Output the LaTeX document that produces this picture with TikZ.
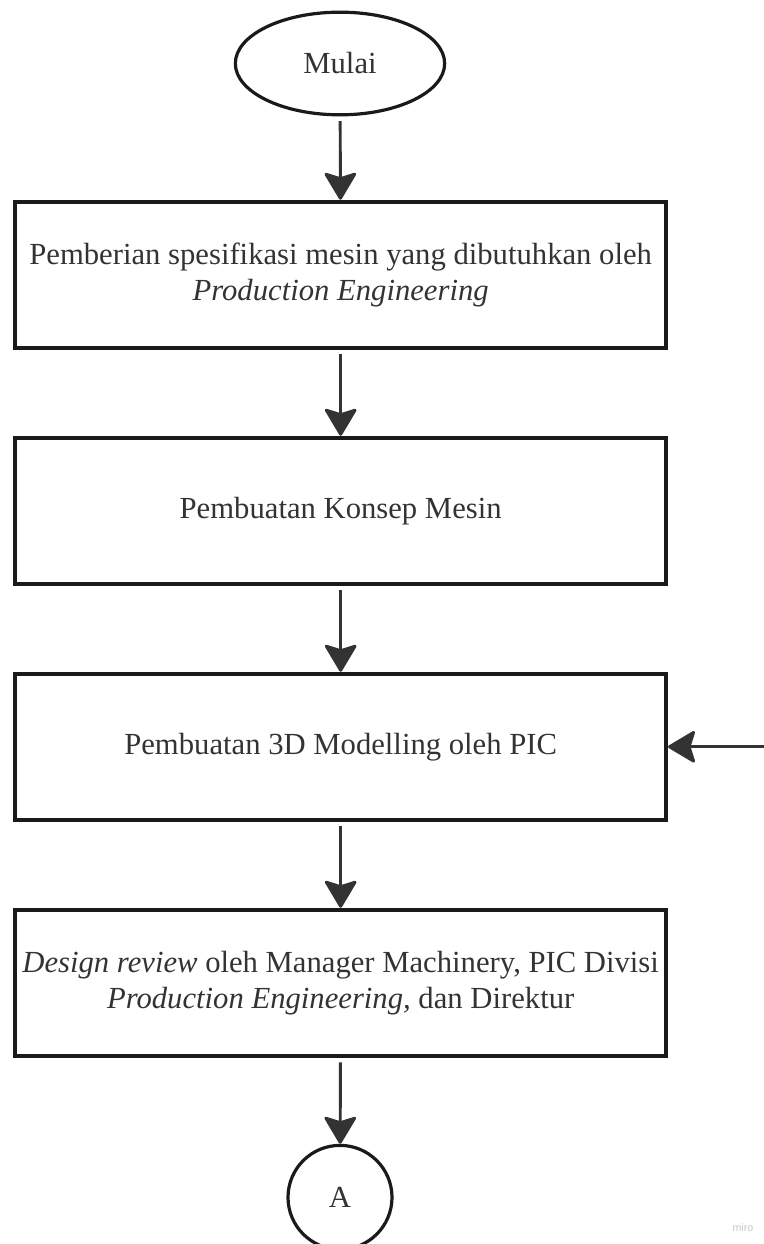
\documentclass[tikz,border=0pt]{standalone}
\usepackage{fontspec}
\setmainfont{Liberation Serif}
\setsansfont{Liberation Sans}
\usepackage{xcolor}
\usepackage{tikz}
\usetikzlibrary{arrows.meta,positioning,shapes.geometric}

\definecolor{inkline}{HTML}{1A1A1A}
\definecolor{inkarrow}{HTML}{333333}
\definecolor{inktext}{HTML}{333333}

\begin{document}
\begin{tikzpicture}[
  x=0.75pt, y=-0.75pt,
  node distance=64.5pt,
  every node/.style={font=\fontsize{23}{27}\selectfont, text=inktext},
  term/.style={draw=inkline, ellipse, line width=2.4pt, minimum width=157pt, minimum height=77pt, inner sep=0pt},
  procbox/.style={draw=inkline, rectangle, line width=3pt, minimum width=488pt, minimum height=109.5pt, align=center, inner sep=0pt},
  conn/.style={draw=inkline, circle, line width=2.4pt, minimum size=78pt, inner sep=0pt},
  arr/.style={-{Stealth[length=22pt, width=26pt, inset=4pt, round]}, line width=2.2pt, draw=inkarrow, shorten <=3.5pt}
]
\useasboundingbox (0,0) rectangle (763,1244);

\node[term] (mulai) at (340,63.5) {Mulai};
\node[procbox, below=62.5pt of mulai, xshift=0.5pt] (spek) {Pemberian spesifikasi mesin yang dibutuhkan oleh\\\textit{Production Engineering}};
\node[procbox, below=of spek] (konsep) {Pembuatan Konsep Mesin};
\node[procbox, below=of konsep] (model) {Pembuatan 3D Modelling oleh PIC};
\node[procbox, below=of model] (review) {\textit{Design review} oleh Manager Machinery, PIC Divisi\\\textit{Production Engineering,} dan Direktur};
\node[conn, below=of review, xshift=-0.5pt] (konA) {A};

\coordinate[right=72pt of model.east] (balik);

\draw[arr] (mulai) -- (spek);
\draw[arr] (spek) -- (konsep);
\draw[arr] (konsep) -- (model);
\draw[arr] (model) -- (review);
\draw[arr] (review) -- (konA);
\draw[arr, shorten <=0pt] (balik) -- (model.east);

\node[font=\sffamily\fontsize{8}{9}\selectfont, text=gray!45, anchor=east] (miro) at (758,1228) {miro};
\end{tikzpicture}
\end{document}
